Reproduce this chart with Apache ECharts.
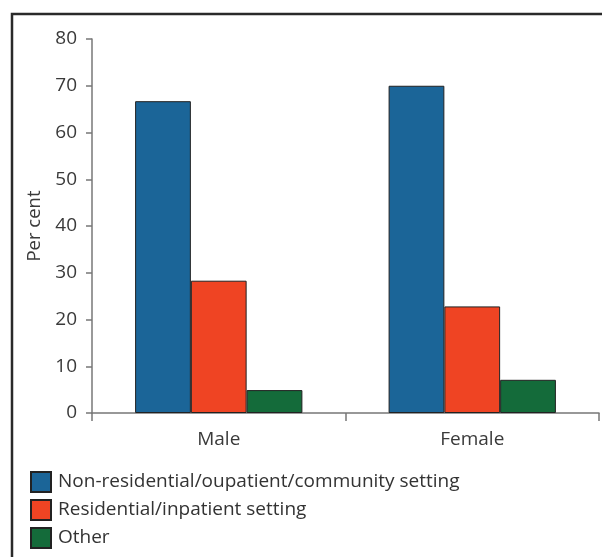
<!DOCTYPE html>
<html>
<head>
<meta charset="utf-8">
<script src="https://cdn.jsdelivr.net/npm/echarts@6/dist/echarts.min.js"></script>
<style>
html,body{margin:0;padding:0;background:#fff;}
#chart{width:602px;height:557px;}
</style>
</head>
<body>
<div id="chart"></div>
<script>
const categories = ['Male', 'Female'];
const seriesNames = ['Non-residential/oupatient/community setting', 'Residential/inpatient setting', 'Other'];
const nonResidential = [66.7, 70.0];
const residential = [28.3, 22.8];
const other = [4.9, 7.1];
const yTicks = [0, 10, 20, 30, 40, 50, 60, 70, 80];
const colors = ['#1b6598', '#ef4423', '#146b3a'];

const chart = echarts.init(document.getElementById('chart'), null, {renderer: 'canvas'});
const font = '"Open Sans", "Noto Sans", sans-serif';
const values = [nonResidential, residential, other];

chart.setOption({
  animation: false,
  textStyle: {fontFamily: font},
  graphic: [{
    type: 'rect',
    shape: {x: 12, y: 14, width: 620, height: 600},
    style: {fill: 'none', stroke: '#2a2a2a', lineWidth: 2.5},
    z: -1
  }],
  grid: {left: 92, right: 3, top: 39, bottom: 144, containLabel: false},
  xAxis: {
    type: 'category',
    data: categories,
    axisLine: {lineStyle: {color: '#777', width: 1.5}},
    axisTick: {show: true, length: 8, lineStyle: {color: '#777', width: 1.5}},
    axisLabel: {color: '#3a3a3a', fontSize: 19, margin: 17, fontFamily: font}
  },
  yAxis: {
    type: 'value',
    min: yTicks[0],
    max: yTicks[yTicks.length - 1],
    interval: 10,
    name: 'Per cent',
    nameLocation: 'middle',
    nameGap: 45,
    nameRotate: 90,
    nameTextStyle: {color: '#3a3a3a', fontSize: 18.5, fontFamily: font},
    axisLine: {show: true, lineStyle: {color: '#777', width: 1.5}},
    axisTick: {show: true, length: 6, lineStyle: {color: '#777', width: 1.5}},
    axisLabel: {color: '#3a3a3a', fontSize: 19, margin: 15, fontFamily: font},
    splitLine: {show: false}
  },
  legend: {
    orient: 'vertical',
    left: 30,
    top: 471,
    height: 90,
    padding: 0,
    itemWidth: 20,
    itemHeight: 20,
    itemGap: 6,
    icon: 'rect',
    textStyle: {color: '#333', fontSize: 19, fontFamily: font, padding: [0, 0, 0, 2]},
    data: seriesNames
  },
  series: seriesNames.map((name, i) => ({
    name: name,
    type: 'bar',
    data: values[i],
    barGap: '0%',
    barCategoryGap: '34%',
    itemStyle: {color: colors[i], borderColor: '#222', borderWidth: 1}
  }))
});
</script>
</body>
</html>
